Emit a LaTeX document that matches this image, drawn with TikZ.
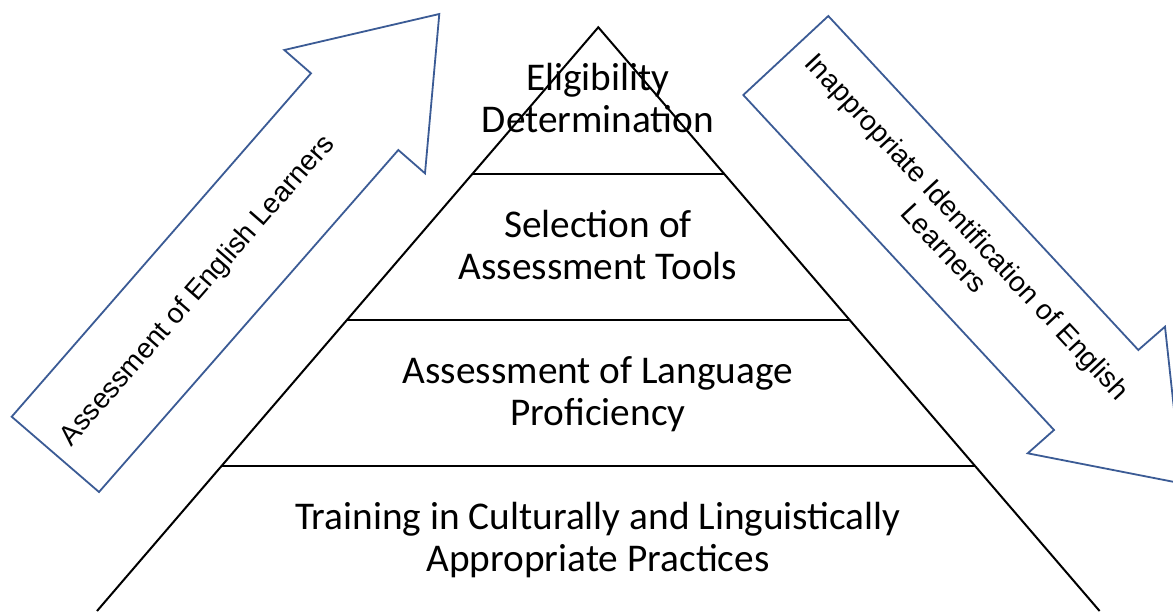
\documentclass[tikz,border=0pt]{standalone}
\usepackage{fontspec}
\newfontfamily\carl{Carlito}
\newfontfamily\arialf{Liberation Sans}
\usetikzlibrary{calc}
\definecolor{arrowblue}{HTML}{3B5B95}
\tikzset{
  tier/.style={font=\carl\fontsize{39.3}{42}\selectfont, inner sep=0pt, anchor=base},
  arrowtext/.style={font=\arialf\fontsize{28}{32}\selectfont, inner sep=0pt, align=center},
  bigarrow/.style={draw=arrowblue, line width=1.8pt, fill=white, line join=miter},
  pyr/.style={draw=black, line width=2pt}
}
\begin{document}
\begin{tikzpicture}[x=1pt,y=-1pt]
\useasboundingbox (0,0) rectangle (1173,611);
\clip (0,0) rectangle (1173,611);
\fill[white] (0,0) rectangle (1173,611);

% pyramid
\coordinate (apex) at (598.3,27.3);
\coordinate (bl) at (97,611);
\coordinate (br) at (1099.6,611);
\draw[pyr] (bl) -- (apex) -- (br);
\draw[pyr] ($(apex)!0.2513!(bl)$) -- ($(apex)!0.2513!(br)$);
\draw[pyr] ($(apex)!0.5014!(bl)$) -- ($(apex)!0.5014!(br)$);
\draw[pyr] ($(apex)!0.7516!(bl)$) -- ($(apex)!0.7516!(br)$);

% left arrow
\draw[bigarrow] (11.7,416.7) -- (311,73.3) -- (284.3,50) -- (439.3,14) -- (425,173.3) -- (398.3,150) -- (99,492) -- cycle;
% right arrow
\draw[bigarrow] (828.3,16) -- (1138.3,350) -- (1165,326.7) -- (1182.1,483.5) -- (1027.7,453.3) -- (1054,430) -- (743.3,95) -- cycle;

% tier labels
\node[tier] (t1a) at (598,90) {Eligibility};
\node[tier] (t1b) at (598,132) {Determination};
\node[tier] (t2a) at (598,237) {Selection of};
\node[tier] (t2b) at (598,279) {Assessment Tools};
\node[tier] (t3a) at (598,383) {Assessment of Language};
\node[tier] (t3b) at (598,425) {Proficiency};
\node[tier] (t4a) at (598,529) {Training in Culturally and Linguistically};
\node[tier] (t4b) at (598,571) {Appropriate Practices};

% arrow labels
\node[arrowtext, rotate=48.9] (la) at (198,291) {Assessment of English Learners};
\node[arrowtext, rotate=-47.1] (ra) at (956,237) {Inappropriate Identification of English\\Learners};
\end{tikzpicture}
\end{document}
